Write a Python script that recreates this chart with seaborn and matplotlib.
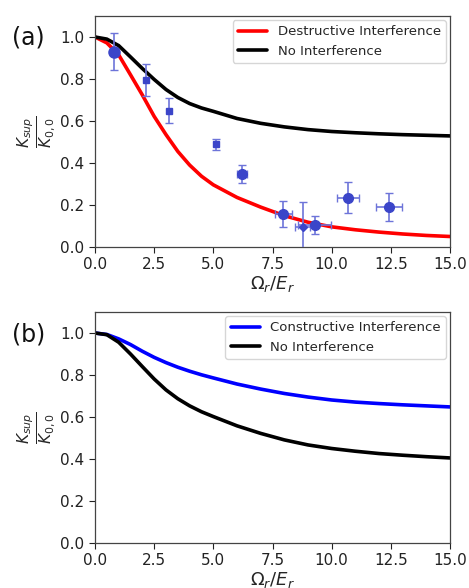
import numpy as np
import pandas as pd
import matplotlib
matplotlib.use("Agg")
import matplotlib.pyplot as plt
import seaborn as sns

# ---- data ----
x_grid = [0, 0.5, 1.0, 1.5, 2.0, 2.5, 3.0, 3.5, 4.0, 4.5, 5.0,
          6.0, 7.0, 8.0, 9.0, 10.0, 11.0, 12.0, 13.0, 14.0, 15.0]

destructive_a = [1.0, 0.972, 0.915, 0.82, 0.724, 0.622, 0.535, 0.455, 0.39, 0.337, 0.296,
                 0.236, 0.19, 0.149, 0.118, 0.096, 0.082, 0.071, 0.062, 0.055, 0.05]
nointerf_a = [1.0, 0.99, 0.959, 0.905, 0.85, 0.798, 0.75, 0.712, 0.683, 0.662, 0.646,
              0.612, 0.589, 0.572, 0.559, 0.55, 0.544, 0.539, 0.535, 0.532, 0.529]

constructive_b = [1.0, 0.993, 0.972, 0.945, 0.913, 0.884, 0.859, 0.837, 0.818, 0.801, 0.786,
                  0.757, 0.733, 0.712, 0.695, 0.681, 0.671, 0.664, 0.658, 0.653, 0.648]
nointerf_b = [1.0, 0.992, 0.956, 0.9, 0.84, 0.781, 0.729, 0.687, 0.653, 0.625, 0.602,
              0.558, 0.522, 0.491, 0.467, 0.45, 0.437, 0.426, 0.418, 0.411, 0.405]

exp_x = [0.80, 2.14, 3.13, 5.13, 6.21, 7.96, 8.77, 9.29, 10.68, 12.42]
exp_y = [0.93, 0.795, 0.649, 0.489, 0.348, 0.157, 0.094, 0.105, 0.235, 0.192]
exp_yerr = [0.088, 0.075, 0.06, 0.026, 0.043, 0.06, 0.12, 0.043, 0.073, 0.067]
exp_xerr = [0.0, 0.0, 0.0, 0.0, 0.21, 0.35, 0.3, 0.7, 0.46, 0.56]
exp_marker = ['o', 's', 's', 's', 'o', 'o', 'D', 'o', 'o', 'o']

x_ticks = [0.0, 2.5, 5.0, 7.5, 10.0, 12.5, 15.0]
y_ticks = [0.0, 0.2, 0.4, 0.6, 0.8, 1.0]

sns.set_theme(style="ticks")
plt.rcParams['font.family'] = ['DejaVu Sans']
plt.rcParams['mathtext.fontset'] = 'dejavusans'

fig = plt.figure(figsize=(4.69, 5.88), dpi=100)
ax_a = fig.add_axes([95/469, 1-247/588, 355/469, 231/588])
ax_b = fig.add_axes([95/469, 1-543/588, 355/469, 231/588])

df_a = pd.DataFrame({"x": x_grid, "d": destructive_a, "n": nointerf_a})
df_b = pd.DataFrame({"x": x_grid, "c": constructive_b, "n": nointerf_b})

sns.lineplot(data=df_a, x="x", y="d", color="red", lw=2.6, ax=ax_a,
             label="Destructive Interference")
sns.lineplot(data=df_a, x="x", y="n", color="black", lw=2.6, ax=ax_a,
             label="No Interference")

pt_col = "#3b45c9"
for xi, yi, xe, ye, m in zip(exp_x, exp_y, exp_xerr, exp_yerr, exp_marker):
    ms = 7 if m == 'o' else 5
    if m == 'D':
        ms = 4.5
    if xi < 1.0:
        ms = 8
    ax_a.errorbar(xi, yi, xerr=xe if xe > 0 else None, yerr=ye, fmt=m,
                  color=pt_col, ecolor="#6d74d9", elinewidth=1.2, capsize=3,
                  markersize=ms, zorder=3)

sns.lineplot(data=df_b, x="x", y="c", color="blue", lw=2.6, ax=ax_b,
             label="Constructive Interference")
sns.lineplot(data=df_b, x="x", y="n", color="black", lw=2.6, ax=ax_b,
             label="No Interference")

for ax in (ax_a, ax_b):
    ax.set_xlim(0, 15)
    ax.set_ylim(0, 1.1)
    ax.set_xticks(x_ticks)
    ax.set_yticks(y_ticks)
    ax.tick_params(labelsize=11, length=4, width=0.8, colors="#222222")
    for s in ax.spines.values():
        s.set_color("#444444")
        s.set_linewidth(0.9)
    ax.set_xlabel(r"$\Omega_r/E_r$", fontsize=13, labelpad=1)
    ax.set_ylabel(r"$\frac{K_{sup}}{K_{0,0}}$", fontsize=16, labelpad=2)
    leg = ax.legend(loc="upper right", fontsize=9.5, frameon=True,
                    handlelength=2.2, borderaxespad=0.3)
    leg.get_frame().set_edgecolor("#cccccc")

fig.text(0.025, 0.925, "(a)", fontsize=17, color="#111111")
fig.text(0.025, 0.42, "(b)", fontsize=17, color="#111111")

fig.savefig("out.png", dpi=100)
